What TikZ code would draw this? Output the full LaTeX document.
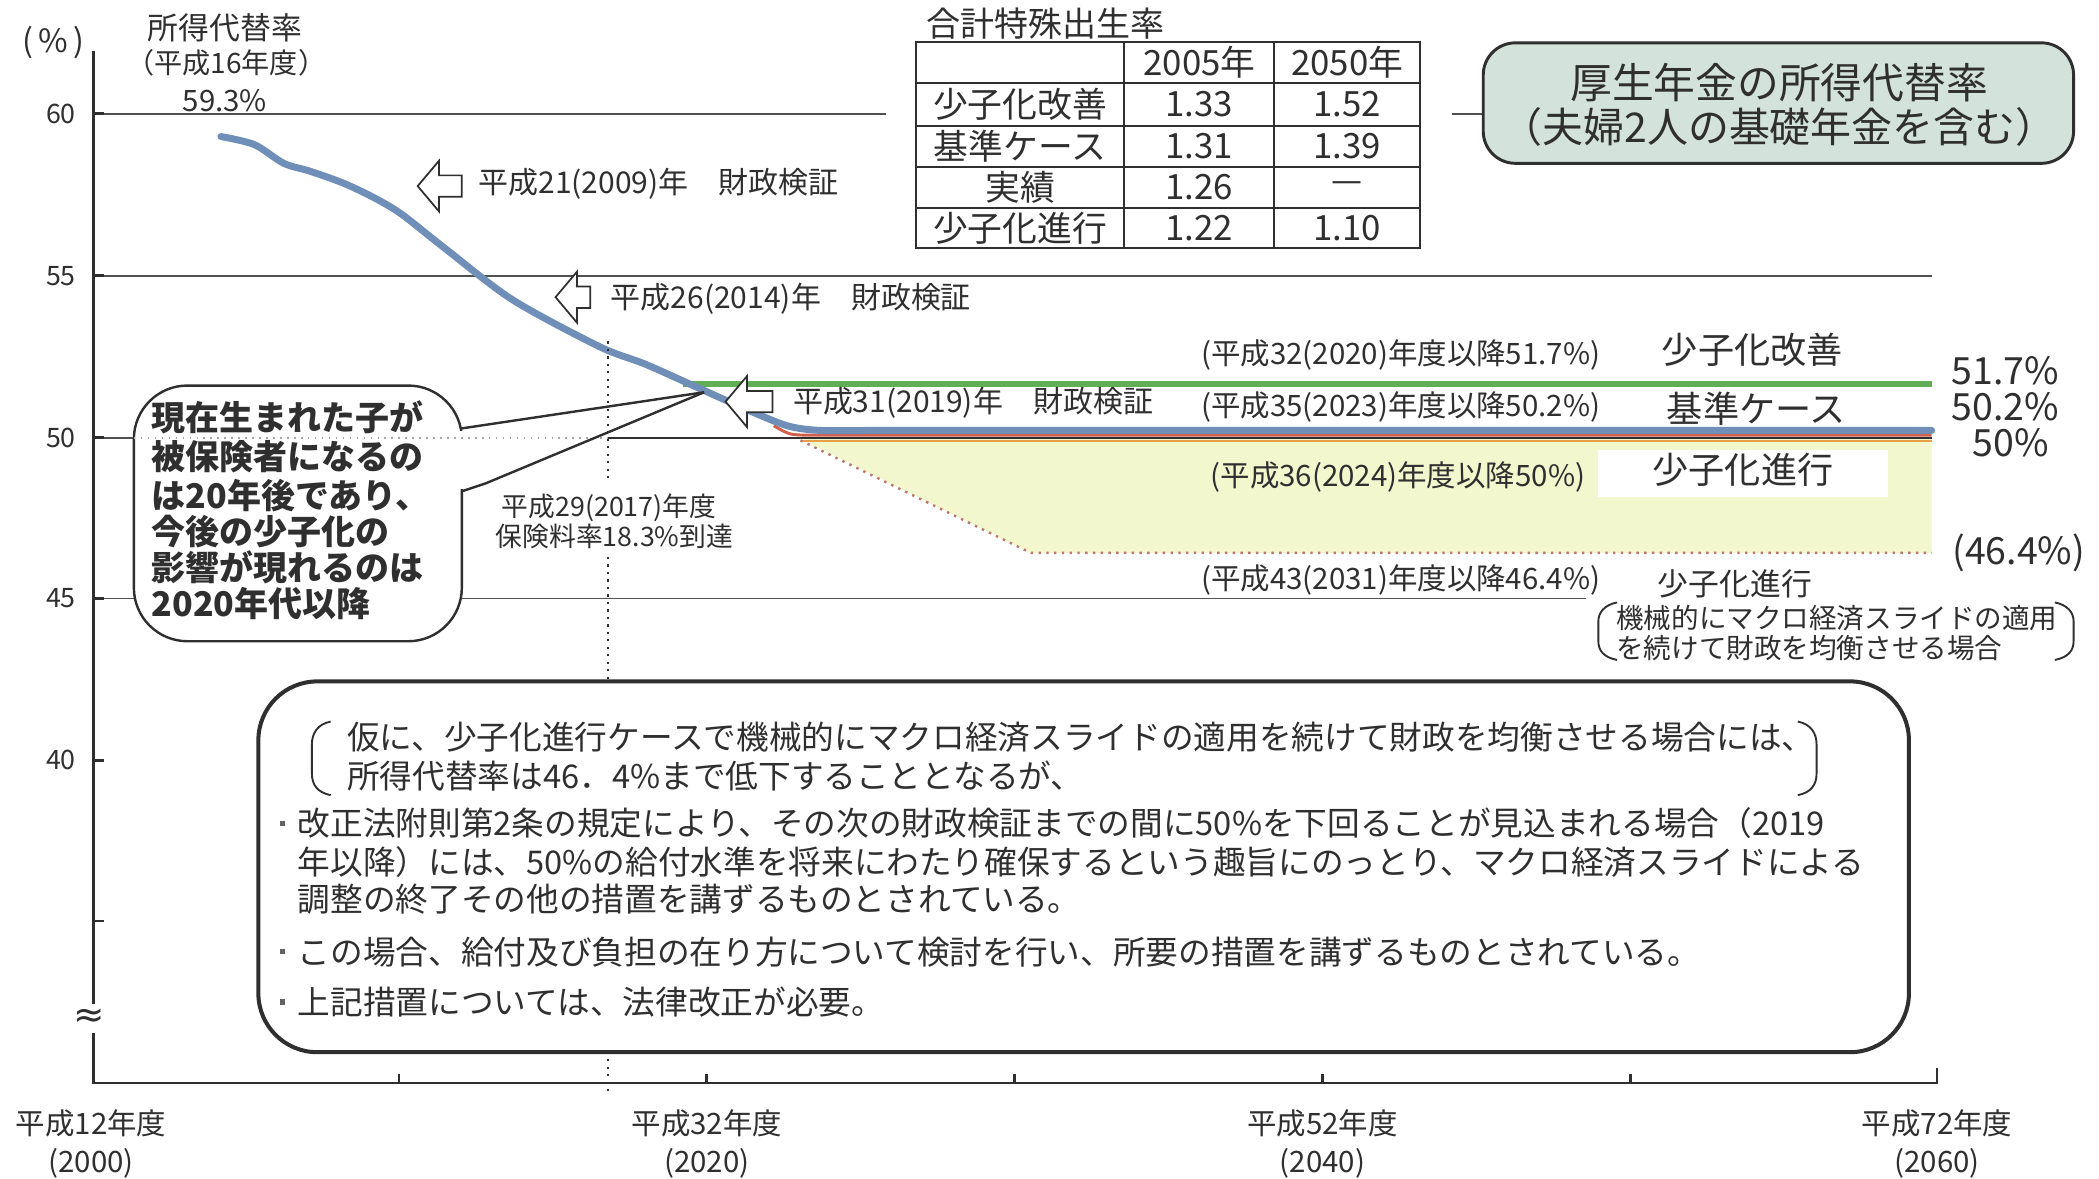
\documentclass[tikz,border=0pt]{standalone}
\usepackage{fontspec}
\setmainfont{Noto Sans CJK JP}
\newfontfamily\djv{DejaVu Sans}
\usetikzlibrary{calc}
\definecolor{ink}{HTML}{2F2F2F}
\definecolor{lineg}{HTML}{505050}
\definecolor{cblue}{HTML}{6F8FB8}
\definecolor{cgreen}{HTML}{62AE55}
\definecolor{cred}{HTML}{D0604C}
\definecolor{corange}{HTML}{E8A048}
\definecolor{cfill}{HTML}{F3F7CE}
\definecolor{titlefill}{HTML}{D3E2DA}
\definecolor{dotred}{HTML}{B8786A}
\tikzset{
  txt/.style={inner sep=0pt, text=ink},
  fs/.style={font=\fontsize{#1}{#1}\selectfont},
  fsb/.style={font=\fontsize{#1}{#1}\selectfont\bfseries},
  gridl/.style={draw=lineg, line width=0.6pt},
  hollow/.style={draw=ink, line width=0.65pt, fill=white, line join=miter},
  axisl/.style={draw=ink, line width=1pt},
  tablel/.style={draw=ink, line width=0.75pt},
}
\newcommand\hollowarr[3]{%
  \draw[hollow] (#1,#2) -- ++(16,-19) -- ++(0,11) -- ++(#3,0) -- ++(0,16) -- ++(-#3,0) -- ++(0,11) -- cycle;}
\begin{document}
\begin{tikzpicture}[x=0.5pt,y=-0.5pt]
\useasboundingbox (0,0) rectangle (1568,880);
\fill[white] (0,0) rectangle (1568,880);

% ---------- grid lines ----------
\draw[gridl] (70,85) -- (662,85);
\draw[gridl] (1085,85) -- (1108,85);
\draw[gridl] (70,206) -- (1443,206);
\draw[gridl] (70,447) -- (1185,447);
\draw[gridl] (70,327) -- (100,327);

% ---------- shaded zone (low fertility, mechanical slide) ----------
\fill[cfill] (598,328) -- (1443,328) -- (1443,413) -- (770,413) -- cycle;
\fill[white] (1194,336) rectangle (1410,371);
\draw[dotred, line width=0.9pt, dotted] (598,329) -- (770,413) -- (1443,413);

% ---------- projection lines ----------
\draw[corange, line width=0.7pt] (600,329.5) -- (1443,329.5);
\draw[ink, line width=0.7pt] (454,327) -- (1443,327);
\draw[cred, line width=1.1pt] (578,318) .. controls (590,325) .. (606,325) -- (1443,325);
\draw[cgreen, line width=2.1pt] (510,287) -- (1443,287);
\draw[cblue, line width=2.6pt, line cap=round, line join=round]
  plot[smooth, tension=0.5] coordinates {(165,102) (190,108) (212,122) (232,128) (257,137)
  (280,148) (300,160) (333,186) (383,224) (448,259) (482,272) (520,289) (558,306)
  (588,318) (612,321.5) (650,321.5)} -- (1443,321.5);

% ---------- axes ----------
\draw[axisl] (70,38) -- (70,750);
\draw[axisl] (70,772) -- (70,809) -- (1447,809) -- (1447,798);
\foreach \v in {85,206,327,447,568,688} \draw[axisl] (70,\v) -- (78,\v);
\foreach \u in {298,528,758,988,1218} \draw[axisl] (\u,809) -- (\u,802);
\node[txt, font=\djv\fontsize{14}{14}\selectfont] (brk) at (67,761) {≈};

\node[txt, fs=12] (pct) at (40,32) {(\,\%\,)};
\node[txt, fs=10, anchor=east] (y60) at (57,85) {60};
\node[txt, fs=10, anchor=east] (y55) at (57,206) {55};
\node[txt, fs=10, anchor=east] (y50) at (57,327) {50};
\node[txt, fs=10, anchor=east] (y45) at (57,447) {45};
\node[txt, fs=10, anchor=east] (y40) at (57,568) {40};

\node[txt, fs=11] (x1a) at (68,839) {平成12年度};
\node[txt, fs=11] (x1b) at (68,869) {(2000)};
\node[txt, fs=11] (x2a) at (528,839) {平成32年度};
\node[txt, fs=11] (x2b) at (528,869) {(2020)};
\node[txt, fs=11] (x3a) at (988,839) {平成52年度};
\node[txt, fs=11] (x3b) at (988,869) {(2040)};
\node[txt, fs=11] (x4a) at (1447,839) {平成72年度};
\node[txt, fs=11] (x4b) at (1447,869) {(2060)};

% ---------- 2017 dotted line ----------
\draw[ink, line width=0.8pt, dotted] (454,255) -- (454,361);
\draw[ink, line width=0.8pt, dotted] (454,416) -- (454,818);
\node[txt, fs=10] (h29a) at (455,379) {平成29(2017)年度};
\node[txt, fs=10] (h29b) at (459,401) {保険料率18.3\%到達};

% ---------- top-left label ----------
\node[txt, fs=11.5] (lab1) at (168,21) {所得代替率};
\node[txt, fs=10.5] (lab2) at (169,47) {（平成16年度）};
\node[txt, fs=11] (lab3) at (168,75) {59.3\%};

% ---------- callout ----------
\draw[ink, line width=0.9pt, fill=white, rounded corners=20] (100,288) rectangle (345,479);
\fill[white] (343,322) rectangle (347,365);
\draw[gray!70, line width=0.6pt, dotted] (100,327) -- (454,327);
\coordinate (ctip) at (526,293);
\coordinate (cp1) at (345,320);
\coordinate (cp2) at (345,367);
\coordinate (cp3) at (363,361);
\draw[ink, line width=0.9pt] (cp1) -- (ctip);
\draw[ink, line width=0.9pt] (cp2) -- (cp3) -- (ctip);
\node[txt, fsb=12.7, anchor=west] (c1) at (113,312) {現在生まれた子が};
\node[txt, fsb=12.7, anchor=west] (c2) at (113,341) {被保険者になるの};
\node[txt, fsb=12.7, anchor=west] (c3) at (113,370) {は20年後であり、};
\node[txt, fsb=12.7, anchor=west] (c4) at (113,397) {今後の少子化の};
\node[txt, fsb=12.7, anchor=west] (c5) at (113,424) {影響が現れるのは};
\node[txt, fsb=12.7, anchor=west] (c6) at (113,451) {2020年代以降};

% ---------- valuation arrows ----------
\hollowarr{312}{139}{17}
\node[txt, fs=11.2, anchor=west] (v09) at (357,137) {平成21(2009)年　財政検証};
\hollowarr{415}{222}{10}
\node[txt, fs=11.2, anchor=west] (v14) at (456,223) {平成26(2014)年　財政検証};
\hollowarr{542}{300}{19}
\node[txt, fs=11.2, anchor=west] (v19) at (592,301) {平成31(2019)年　財政検証};

% ---------- fertility table ----------
\node[txt, fs=12.7, anchor=west] (ttl) at (692,18) {合計特殊出生率};
\draw[tablel] (684,31) rectangle (1061,185);
\draw[tablel] (840,31) -- (840,185);
\draw[tablel] (952,31) -- (952,185);
\foreach \r in {62,94,124.5,155.5} \draw[tablel] (684,\r) -- (1061,\r);
\node[txt, fs=13] (t02) at (896,46.5) {2005年};
\node[txt, fs=13] (t03) at (1006.5,46.5) {2050年};
\node[txt, fs=13] (t11) at (762,78) {少子化改善};
\node[txt, fs=13] (t12) at (896,78) {1.33};
\node[txt, fs=13] (t13) at (1006.5,78) {1.52};
\node[txt, fs=13] (t21) at (762,109) {基準ケース};
\node[txt, fs=13] (t22) at (896,109) {1.31};
\node[txt, fs=13] (t23) at (1006.5,109) {1.39};
\node[txt, fs=13] (t31) at (762,140) {実績};
\node[txt, fs=13] (t32) at (896,140) {1.26};
\node[txt, fs=13] (t33) at (1006.5,140) {—};
\node[txt, fs=13] (t41) at (762,170.5) {少子化進行};
\node[txt, fs=13] (t42) at (896,170.5) {1.22};
\node[txt, fs=13] (t43) at (1006.5,170.5) {1.10};

% ---------- title box ----------
\draw[ink, line width=1.1pt, fill=titlefill, rounded corners=12] (1108,32) rectangle (1549,122);
\node[txt, fs=15.6] (tt1) at (1329,62) {厚生年金の所得代替率};
\node[txt, fs=15.3] (tt2) at (1329,95) {（夫婦2人の基礎年金を含む）};

% ---------- scenario labels ----------
\node[txt, fs=11, anchor=west] (s1) at (897,265) {(平成32(2020)年度以降51.7\%)};
\node[txt, fs=11, anchor=west] (s2) at (897,304) {(平成35(2023)年度以降50.2\%)};
\node[txt, fs=11, anchor=west] (s3) at (904,356) {(平成36(2024)年度以降50\%)};
\node[txt, fs=11, anchor=west] (s4) at (897,433) {(平成43(2031)年度以降46.4\%)};
\node[txt, fs=13.5] (n1) at (1309,261) {少子化改善};
\node[txt, fs=13.5] (n2) at (1312,305) {基準ケース};
\node[txt, fs=13.5] (n3) at (1302,351) {少子化進行};
\node[txt, fs=11.5] (n4) at (1296,436) {少子化進行};
\draw[ink, line width=0.7pt] (1208,450) .. controls (1198,452) and (1194,458) .. (1194,464) -- (1194,479) .. controls (1194,486) and (1198,491) .. (1208,493);
\draw[ink, line width=0.7pt] (1535,450) .. controls (1545,452) and (1549,458) .. (1549,464) -- (1549,479) .. controls (1549,486) and (1545,491) .. (1535,493);
\node[txt, fs=10.3, anchor=west] (m1) at (1207,462) {機械的にマクロ経済スライドの適用};
\node[txt, fs=10.3, anchor=west] (m2) at (1207,484) {を続けて財政を均衡させる場合};

\node[txt, fs=14] (r1) at (1498,277) {51.7\%};
\node[txt, fs=14] (r2) at (1498,304) {50.2\%};
\node[txt, fs=14] (r3) at (1502,331) {50\%};
\node[txt, fs=14] (r4) at (1508,413) {(46.4\%)};

% ---------- bottom note box ----------
\draw[ink, line width=1.5pt, fill=white, rounded corners=22] (193,509) rectangle (1426,786);
\draw[ink, line width=0.7pt] (247,539) .. controls (237,541) and (233,548) .. (233,556) -- (233,578) .. controls (233,586) and (237,592) .. (247,594);
\draw[ink, line width=0.7pt] (1343,539) .. controls (1353,541) and (1357,548) .. (1357,556) -- (1357,578) .. controls (1357,586) and (1353,592) .. (1343,594);
\node[txt, fs=12.2, anchor=west] (b1) at (259,551) {仮に、少子化進行ケースで機械的にマクロ経済スライドの適用を続けて財政を均衡させる場合には、};
\node[txt, fs=12.2, anchor=west] (b2) at (259,580) {所得代替率は46．4\%まで低下することとなるが、};
\foreach \yy in {615,711,748.5} \fill[ink!75] (209,\yy-2) rectangle (213,\yy+2);
\node[txt, fs=12.2, anchor=west] (b3) at (222,615) {改正法附則第2条の規定により、その次の財政検証までの間に50\%を下回ることが見込まれる場合（2019};
\node[txt, fs=12.2, anchor=west] (b4) at (222,644) {年以降）には、50\%の給付水準を将来にわたり確保するという趣旨にのっとり、マクロ経済スライドによる};
\node[txt, fs=12.2, anchor=west] (b5) at (222,672) {調整の終了その他の措置を講ずるものとされている。};
\node[txt, fs=12.2, anchor=west] (b6) at (222,711) {この場合、給付及び負担の在り方について検討を行い、所要の措置を講ずるものとされている。};
\node[txt, fs=12.2, anchor=west] (b7) at (222,748.5) {上記措置については、法律改正が必要。};
\end{tikzpicture}
\end{document}
